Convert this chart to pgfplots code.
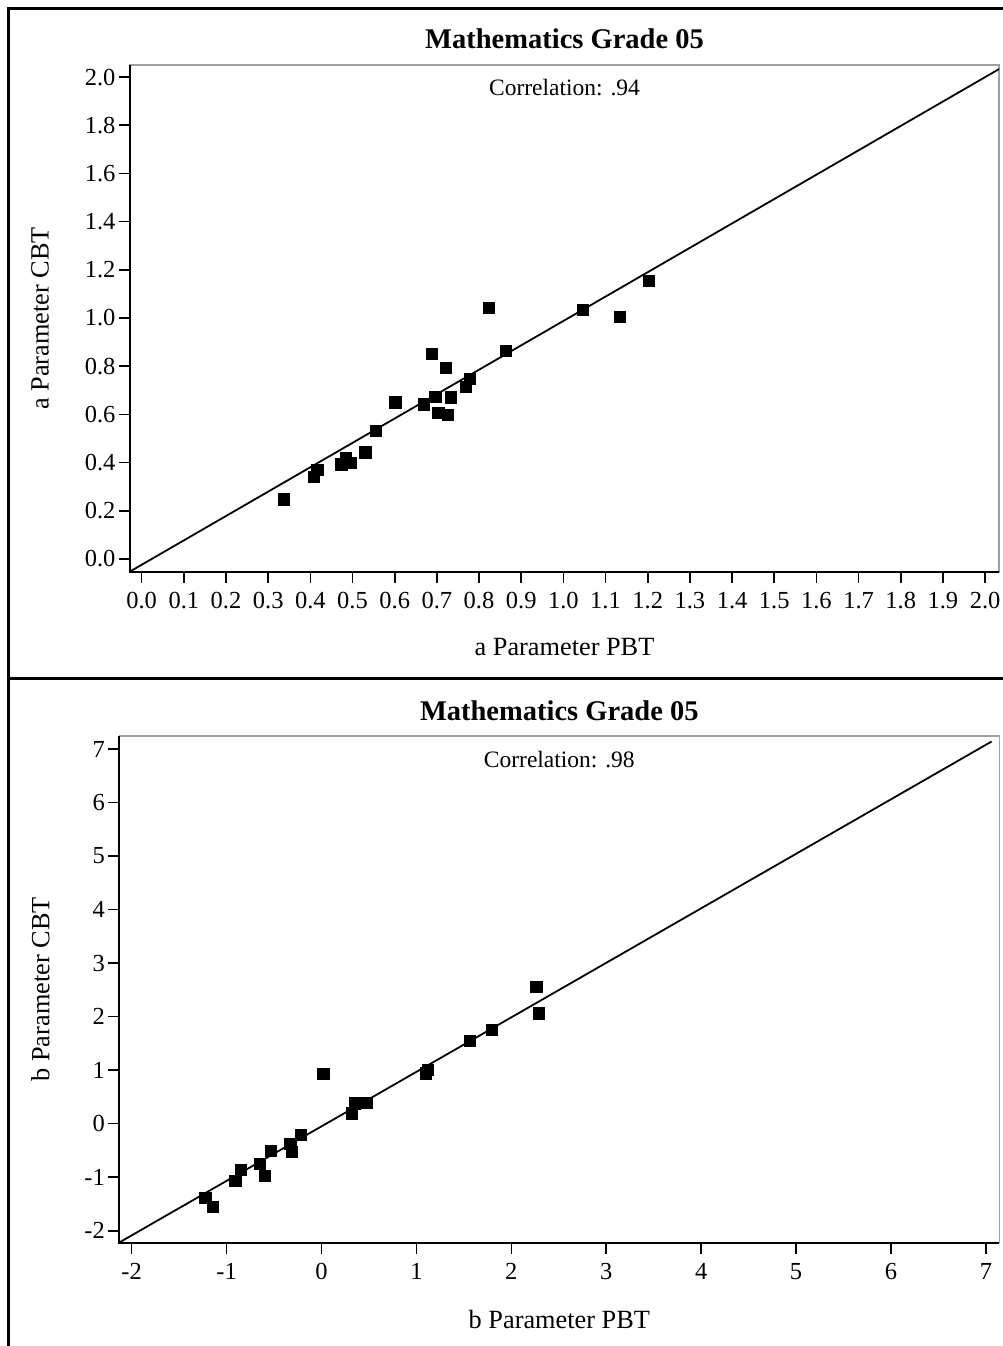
\documentclass[border=0pt]{standalone}
\usepackage{fontspec}
\setmainfont{Liberation Serif}
\usepackage{pgfplots}
\pgfplotsset{compat=1.18}

% item parameters: paper-based (PBT) vs computer-based (CBT) calibration
\pgfplotstableread{
pbt    cbt
0.337  0.248
0.408  0.342
0.416  0.372
0.473  0.393
0.484  0.420
0.495  0.400
0.530  0.443
0.555  0.531
0.601  0.651
0.668  0.642
0.688  0.853
0.696  0.673
0.703  0.607
0.725  0.599
0.721  0.795
0.732  0.671
0.768  0.715
0.778  0.748
0.822  1.043
0.863  0.864
1.046  1.033
1.134  1.005
1.202  1.155
}\aparam

\pgfplotstableread{
pbt     cbt
-1.226  -1.378
-1.149  -1.553
-0.910  -1.073
-0.850  -0.855
-0.647  -0.754
-0.598  -0.979
-0.532  -0.505
-0.329  -0.368
-0.311  -0.523
-0.219  -0.212
 0.019   0.929
 0.317   0.194
 0.352   0.381
 0.475   0.394
 1.100   0.941
 1.120   1.010
 1.562   1.547
 1.790   1.753
 2.263   2.552
 2.291   2.065
}\bparam

\pgfplotsset{
  paramplot/.style={
    scale only axis,
    clip mode=individual,
    axis line style={draw=gray!75, line width=1.3pt},
    tick align=outside,
    xtick pos=bottom, ytick pos=left,
    major tick length=11pt,
    tick style={black, line width=1.6pt},
    /pgf/number format/assume math mode=true,
    ticklabel style={font=\fontsize{24.5}{24.5}\selectfont},
    xticklabel style={yshift=-6pt},
    label style={font=\fontsize{26.3}{26.3}\selectfont},
    title style={font=\bfseries\fontsize{28.5}{28.5}\selectfont, anchor=center},
    xlabel style={anchor=center},
    ylabel style={anchor=center, rotate=0},
  },
  refline/.style={black, line width=1.8pt},
  pts/.style={only marks, mark=square*, mark size=5.6pt, black},
}

\begin{document}
\begin{tikzpicture}
\useasboundingbox (0pt,0pt) rectangle (1003pt,1346pt);

% upper panel: a parameter
\begin{axis}[
  paramplot,
  at={(130pt,774pt)}, anchor=south west,
  width=869pt, height=507pt,
  xmin=-0.0277, xmax=2.033,
  ymin=-0.054, ymax=2.050,
  xtick={0,0.1,0.2,0.3,0.4,0.5,0.6,0.7,0.8,0.9,1.0,1.1,1.2,1.3,1.4,1.5,1.6,1.7,1.8,1.9,2.0},
  ytick={0,0.2,0.4,0.6,0.8,1.0,1.2,1.4,1.6,1.8,2.0},
  xticklabel style={/pgf/number format/.cd, fixed, fixed zerofill, precision=1},
  yticklabel style={/pgf/number format/.cd, fixed, fixed zerofill, precision=1},
  title={Mathematics Grade 05},
  title style={at={(axis description cs:0.5,1)}, yshift=20pt},
  xlabel={a Parameter PBT},
  xlabel style={at={(axis description cs:0.5,0)}, yshift=-75pt},
  ylabel={a Parameter CBT},
  ylabel style={at={(axis description cs:-0.1036,0.5)}},
]
\addplot[refline] coordinates {(-0.0277,-0.052) (2.04,2.04)};
\addplot[pts] table[x=pbt, y=cbt] {\aparam};
\draw[black, line width=2pt] (rel axis cs:0,1) -- (rel axis cs:0,0) -- (rel axis cs:1,0);
\node[font=\fontsize{23.5}{23.5}\selectfont] at (rel axis cs:0.5,1) [yshift=-23pt] {Correlation: .94};
\end{axis}

% lower panel: b parameter
\begin{axis}[
  paramplot,
  at={(119.3pt,103.3pt)}, anchor=south west,
  width=880pt, height=506.7pt,
  xmin=-2.130, xmax=7.141,
  ymin=-2.224, ymax=7.243,
  xtick={-2,-1,0,1,2,3,4,5,6,7},
  ytick={-2,-1,0,1,2,3,4,5,6,7},
  title={Mathematics Grade 05},
  title style={at={(axis description cs:0.5,1)}, yshift=19pt},
  xlabel={b Parameter PBT},
  xlabel style={at={(axis description cs:0.5,0)}, yshift=-77pt},
  ylabel={b Parameter CBT},
  ylabel style={at={(axis description cs:-0.0898,0.5)}},
]
\addplot[refline] coordinates {(-2.13,-2.22) (7.06,7.14)};
\addplot[pts] table[x=pbt, y=cbt] {\bparam};
\draw[black, line width=2pt] (rel axis cs:0,1) -- (rel axis cs:0,0) -- (rel axis cs:1,0);
\node[font=\fontsize{23.5}{23.5}\selectfont] at (rel axis cs:0.5,1) [yshift=-24pt] {Correlation: .98};
\end{axis}

% panel frames
\draw[line width=2.5pt] (8.5pt,0pt) -- (8.5pt,1337.5pt) -- (1010pt,1337.5pt);
\draw[line width=3pt] (8.5pt,667.7pt) -- (1010pt,667.7pt);
\end{tikzpicture}
\end{document}
